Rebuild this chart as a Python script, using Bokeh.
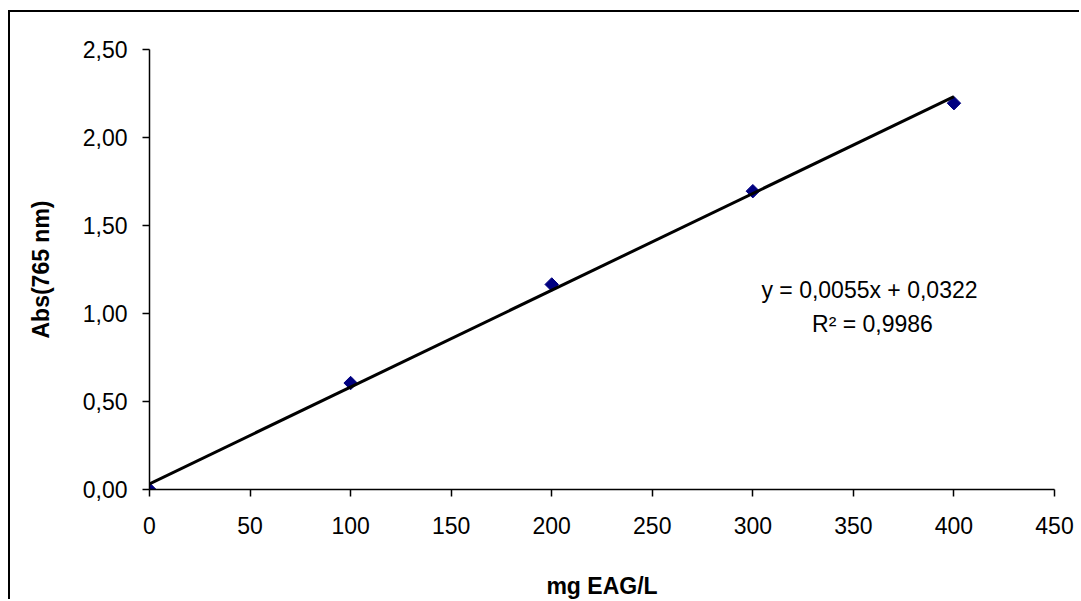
import math
from bokeh.plotting import figure
from bokeh.models import FixedTicker, Label
from bokeh.embed import file_html
from bokeh.resources import INLINE

# data
conc = [0, 100, 200, 300, 400]
absorb = [0.0, 0.605, 1.165, 1.695, 2.195]
slope = 0.0055
intercept = 0.0322
trend_x = [0, 400]
trend_y = [intercept + slope * v for v in trend_x]
x_ticks = [0, 50, 100, 150, 200, 250, 300, 350, 400, 450]
y_ticks = [0.0, 0.5, 1.0, 1.5, 2.0, 2.5]
y_tick_labels = ["0,00", "0,50", "1,00", "1,50", "2,00", "2,50"]
eq_text = "y = 0,0055x + 0,0322"
r2_text = "R² = 0,9986"

FONT = "Liberation Sans"

p = figure(width=1071, height=589, x_range=(0, 450), y_range=(0, 2.5),
           output_backend="svg", toolbar_location=None,
           min_border_left=139, min_border_right=27, min_border_top=37, min_border_bottom=110)
p.styles = {"border-top": "2px solid black", "border-left": "2px solid black",
            "margin-left": "8px", "margin-top": "10px"}
p.outline_line_color = None
p.xgrid.visible = False
p.ygrid.visible = False
p.background_fill_color = "white"
p.border_fill_color = "white"

for ax in (p.xaxis[0], p.yaxis[0]):
    ax.axis_line_color = "black"
    ax.axis_line_width = 1.5
    ax.major_tick_line_color = "black"
    ax.major_tick_line_width = 1.5
    ax.major_tick_out = 7
    ax.major_tick_in = 0
    ax.minor_tick_line_color = None
    ax.major_label_text_font = FONT
    ax.major_label_text_font_size = "23px"
    ax.major_label_text_color = "black"
    ax.axis_label_text_font = FONT
    ax.axis_label_text_font_size = "23px"
    ax.axis_label_text_font_style = "bold"
    ax.axis_label_text_color = "black"

p.xaxis.ticker = FixedTicker(ticks=x_ticks)
p.yaxis.ticker = FixedTicker(ticks=y_ticks)
p.yaxis.major_label_overrides = {t: s for t, s in zip(y_ticks, y_tick_labels)}
p.xaxis.axis_label = "mg EAG/L"
p.yaxis.axis_label = "Abs(765 nm)"
p.xaxis.major_label_standoff = 20
p.yaxis.major_label_standoff = 15
p.xaxis.axis_label_standoff = 36
p.yaxis.axis_label_standoff = 26

p.scatter(conc, absorb, marker="square", angle=math.pi / 4, size=9.5,
          fill_color="#000080", line_color="#000080")
p.line(trend_x, trend_y, line_color="black", line_width=3)

p.add_layout(Label(x=358, y=1.135, text=eq_text, text_font=FONT, text_font_size="23px",
                   text_align="center", text_baseline="middle", text_color="black"))
p.add_layout(Label(x=359.5, y=0.943, text=r2_text, text_font=FONT, text_font_size="23px",
                   text_align="center", text_baseline="middle", text_color="black"))

open("out.html", "w").write(file_html(p, INLINE))
